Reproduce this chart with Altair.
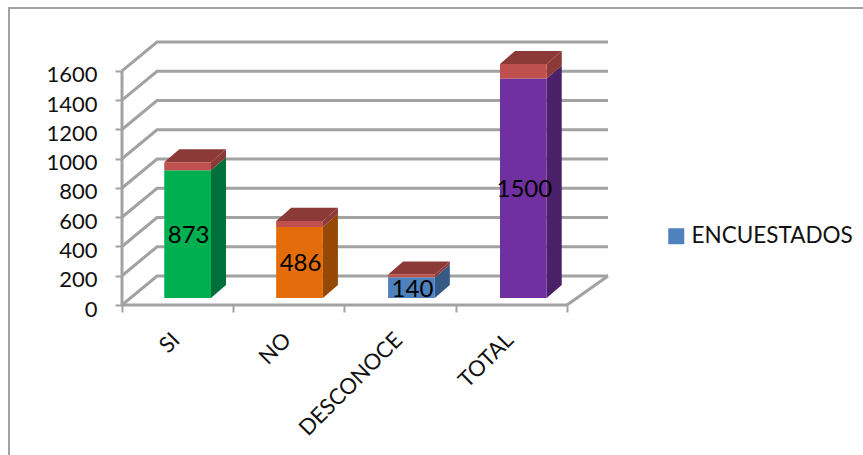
import altair as alt
import pandas as pd

# Survey answers and the value printed on each column
CATEGORIES = ["SI", "NO", "DESCONOCE", "TOTAL"]
VALUES = [873, 486, 140, 1500]
CAP_VALUES = [55, 41, 20, 100]
FRONT_COLORS = ["#00b050", "#e46c0a", "#4f81bd", "#7030a0"]
SIDE_COLORS = ["#00703a", "#964806", "#355a86", "#4a2069"]
CAP_FRONT = "#c0504d"
CAP_DARK = "#8c3a38"
SERIES_NAME = "ENCUESTADOS"
TICKS = [0, 200, 400, 600, 800, 1000, 1200, 1400, 1600]

# Oblique projection, expressed in scale units
WALL_DX, WALL_DY = 0.315, 198
BAR_DX, BAR_DY = 0.135, 89
BAR_START, BAR_STEP, BAR_W = 0.38, 1.006, 0.42
BAR_BASE = 48
X_MAX = 4.369
Y_MAX = 1798

GRAY = "#a2a2a2"
FONT = "Lato"
LABEL_SIZE = 22

# Floor and wall guide lines
grid_rows = []
for v in TICKS:
    for seq, (x, y) in enumerate([(0, v), (WALL_DX, v + WALL_DY), (X_MAX, v + WALL_DY)]):
        grid_rows.append({"line": f"g{v}", "seq": seq, "x": x, "y": y})
grid_rows += [
    {"line": "floor", "seq": 0, "x": 4, "y": 0},
    {"line": "floor", "seq": 1, "x": X_MAX, "y": WALL_DY},
]
grid = pd.DataFrame(grid_rows)

# Column faces
front, side, top, labels = [], [], [], []
for i, (name, val, cap) in enumerate(zip(CATEGORIES, VALUES, CAP_VALUES)):
    x0 = BAR_START + i * BAR_STEP
    x1 = x0 + BAR_W
    y_body = BAR_BASE + val
    y_cap = y_body + cap
    front.append({"x": x0, "x2": x1, "y": BAR_BASE, "y2": y_body, "fill": FRONT_COLORS[i],
                  "serie": SERIES_NAME if FRONT_COLORS[i] == "#4f81bd" else "other"})
    front.append({"x": x0, "x2": x1, "y": y_body, "y2": y_cap, "fill": CAP_FRONT, "serie": "other"})
    for k in (0, 1):
        side.append({"face": f"b{i}", "x": x1 + k * BAR_DX, "y": BAR_BASE + k * BAR_DY,
                     "y2": y_body + k * BAR_DY, "fill": SIDE_COLORS[i]})
        side.append({"face": f"c{i}", "x": x1 + k * BAR_DX, "y": y_body + k * BAR_DY,
                     "y2": y_cap + k * BAR_DY, "fill": CAP_DARK})
        top.append({"face": f"t{i}", "x": x0 + k * BAR_DX, "x2": x1 + k * BAR_DX,
                    "y": y_cap + k * BAR_DY, "fill": CAP_DARK})
    labels.append({"x": (x0 + x1) / 2, "y": BAR_BASE + val / 2, "text": str(val)})

front = pd.DataFrame(front)
side = pd.DataFrame(side)
top = pd.DataFrame(top)
labels = pd.DataFrame(labels)

x_scale = alt.Scale(domain=[0, X_MAX], nice=False, zero=False)
y_scale = alt.Scale(domain=[0, Y_MAX], nice=False, zero=False)
names = ",".join(f"'{c}'" for c in CATEGORIES)

x_axis = alt.Axis(
    title=None, domain=False, grid=False,
    values=[k / 2 for k in range(9)],
    labelExpr=f"datum.value % 1 === 0 ? '' : [{names}][floor(datum.value)]",
    tickOpacity={"condition": {"test": "datum.value % 1 === 0", "value": 1}, "value": 0},
    tickColor=GRAY, tickWidth=2, tickSize=7,
    labelAngle=-45, labelFont=FONT, labelFontSize=LABEL_SIZE, labelColor="#111111",
    labelPadding=17, labelOffset=-9, labelOverlap=False, labelBound=False, labelFlush=False,
)
y_axis = alt.Axis(
    title=None, domain=False, grid=False, values=TICKS, format="d",
    tickColor=GRAY, tickWidth=2, tickSize=7,
    labelFont=FONT, labelFontSize=LABEL_SIZE, labelColor="#111111",
    labelPadding=18, labelOffset=4,
    labelOverlap=False, labelBound=False, labelFlush=False,
)

X = alt.X("x:Q", scale=x_scale, axis=x_axis)
Y = alt.Y("y:Q", scale=y_scale, axis=y_axis, stack=None)
FILL = alt.Fill("fill:N", scale=None, legend=None)

grid_lines = alt.Chart(grid).mark_line(color=GRAY, strokeWidth=3).encode(
    x=X, y=Y, detail="line:N", order="seq:Q"
)
value_axis_line = alt.Chart(pd.DataFrame({"x": [0], "y": [0], "y2": [TICKS[-1]]})).mark_rule(
    color=GRAY, strokeWidth=3
).encode(x=X, y=Y, y2="y2:Q")
floor_line = alt.Chart(pd.DataFrame({"x": [0], "x2": [4], "y": [0]})).mark_rule(
    color=GRAY, strokeWidth=3
).encode(x=X, x2="x2:Q", y=Y)

# Outer chart frame, running past the page's right and bottom edges
frame = alt.Chart(pd.DataFrame({"k": [0]})).mark_rect(
    filled=False, stroke=GRAY, strokeWidth=2
).encode(x=alt.value(-113), x2=alt.value(800), y=alt.value(-34), y2=alt.value(460))

side_faces = alt.Chart(side).mark_area(orient="vertical").encode(
    x=X, y=Y, y2="y2:Q", detail="face:N", fill=FILL
)
top_faces = alt.Chart(top).mark_area(orient="horizontal").encode(
    x=X, x2="x2:Q", y=Y, detail="face:N", fill=FILL
)
front_faces = alt.Chart(front[front.serie == "other"]).mark_rect().encode(
    x=X, x2="x2:Q", y=Y, y2="y2:Q", fill=FILL
)
legend_face = alt.Chart(front[front.serie == SERIES_NAME]).mark_rect().encode(
    x=X, x2="x2:Q", y=Y, y2="y2:Q",
    color=alt.Color(
        "serie:N",
        scale=alt.Scale(domain=[SERIES_NAME], range=["#4f81bd"]),
        legend=alt.Legend(
            title=None, orient="none", legendX=543, legendY=183,
            symbolType="square", symbolSize=256, symbolStrokeWidth=0, symbolOpacity=1,
            labelFont=FONT, labelFontSize=22.5, labelColor="#111111", labelOffset=4,
            labelLimit=300,
        ),
    ),
)
value_labels = alt.Chart(labels).mark_text(
    font=FONT, fontSize=24, color="black", xOffset=1, yOffset=2
).encode(x=X, y=Y, text="text:N")

chart = alt.layer(
    grid_lines, value_axis_line, floor_line, frame,
    side_faces, top_faces, front_faces, legend_face, value_labels,
).properties(
    width=486, height=263,
    padding={"left": 122, "top": 42, "right": 255, "bottom": 150},
    autosize=alt.AutoSizeParams(type="none"),
    background="white",
).configure_view(stroke=None)

chart.save("out.html", embed_options={"renderer": "svg", "actions": False})
